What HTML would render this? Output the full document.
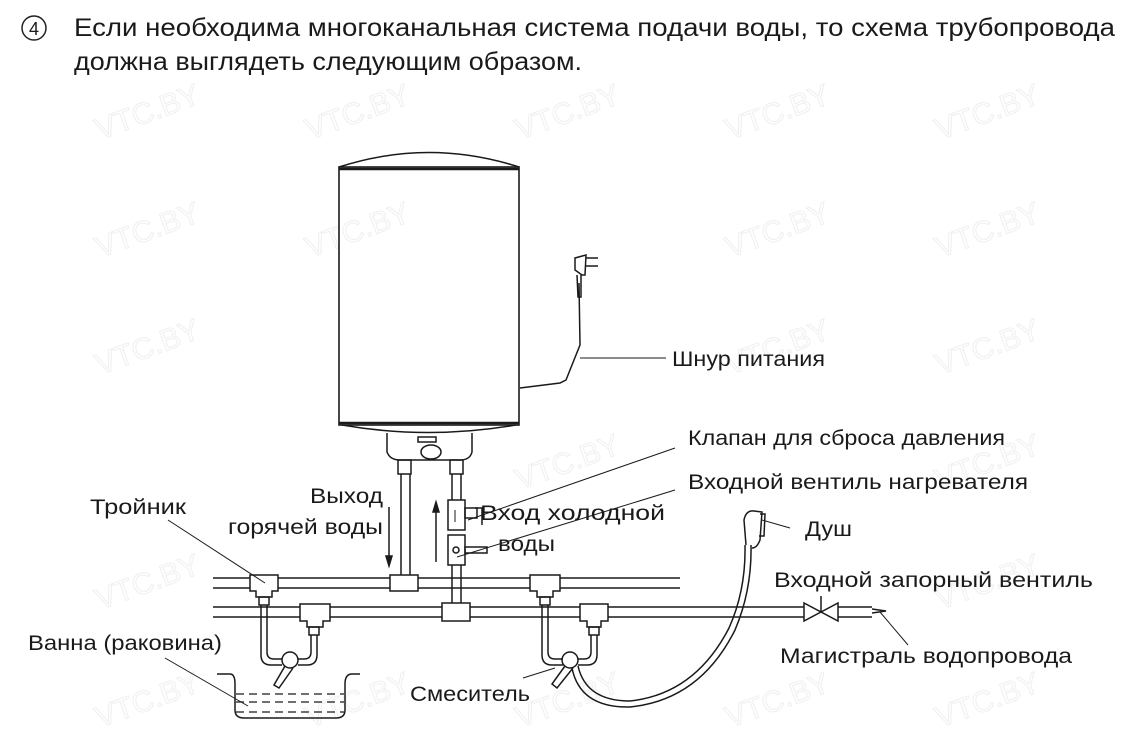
<!DOCTYPE html>
<html><head><meta charset="utf-8"><style>
html,body{margin:0;padding:0;background:#fff;}
svg{display:block;}
text{font-family:"Liberation Sans","DejaVu Sans",sans-serif;fill:#1a1a1a;}
</style></head><body>
<svg width="1145" height="748" viewBox="0 0 1145 748" xmlns="http://www.w3.org/2000/svg">
<g font-size="30" style="font-family:'Liberation Sans',sans-serif">
<text x="100" y="140" transform="rotate(-20 100 140)" style="fill:none;stroke:#efefef">VTC.BY</text>
<text x="310" y="140" transform="rotate(-20 310 140)" style="fill:none;stroke:#efefef">VTC.BY</text>
<text x="520" y="140" transform="rotate(-20 520 140)" style="fill:none;stroke:#efefef">VTC.BY</text>
<text x="730" y="140" transform="rotate(-20 730 140)" style="fill:none;stroke:#efefef">VTC.BY</text>
<text x="940" y="140" transform="rotate(-20 940 140)" style="fill:none;stroke:#efefef">VTC.BY</text>
<text x="100" y="258" transform="rotate(-20 100 258)" style="fill:none;stroke:#efefef">VTC.BY</text>
<text x="310" y="258" transform="rotate(-20 310 258)" style="fill:none;stroke:#efefef">VTC.BY</text>
<text x="730" y="258" transform="rotate(-20 730 258)" style="fill:none;stroke:#efefef">VTC.BY</text>
<text x="940" y="258" transform="rotate(-20 940 258)" style="fill:none;stroke:#efefef">VTC.BY</text>
<text x="100" y="375" transform="rotate(-20 100 375)" style="fill:none;stroke:#efefef">VTC.BY</text>
<text x="730" y="375" transform="rotate(-20 730 375)" style="fill:none;stroke:#efefef">VTC.BY</text>
<text x="940" y="375" transform="rotate(-20 940 375)" style="fill:none;stroke:#efefef">VTC.BY</text>
<text x="520" y="490" transform="rotate(-20 520 490)" style="fill:none;stroke:#efefef">VTC.BY</text>
<text x="940" y="490" transform="rotate(-20 940 490)" style="fill:none;stroke:#efefef">VTC.BY</text>
<text x="100" y="610" transform="rotate(-20 100 610)" style="fill:none;stroke:#efefef">VTC.BY</text>
<text x="940" y="610" transform="rotate(-20 940 610)" style="fill:none;stroke:#efefef">VTC.BY</text>
<text x="100" y="728" transform="rotate(-20 100 728)" style="fill:none;stroke:#efefef">VTC.BY</text>
<text x="310" y="728" transform="rotate(-20 310 728)" style="fill:none;stroke:#efefef">VTC.BY</text>
<text x="520" y="728" transform="rotate(-20 520 728)" style="fill:none;stroke:#efefef">VTC.BY</text>
<text x="730" y="728" transform="rotate(-20 730 728)" style="fill:none;stroke:#efefef">VTC.BY</text>
<text x="940" y="728" transform="rotate(-20 940 728)" style="fill:none;stroke:#efefef">VTC.BY</text>
</g>

<!-- title -->
<circle cx="34" cy="28" r="12" fill="none" stroke="#222" stroke-width="1.5"/>
<text x="34" y="35" font-size="18" text-anchor="middle">4</text>
<text x="74" y="36" font-size="25" textLength="1041" lengthAdjust="spacingAndGlyphs">Если необходима многоканальная система подачи воды, то  схема трубопровода</text>
<text x="74" y="70" font-size="25" textLength="508" lengthAdjust="spacingAndGlyphs">должна выглядеть следующим образом.</text>

<g fill="none" stroke="#1a1a1a" stroke-width="1.5">
<!-- heater -->
<path d="M339 167 Q429 138 519 167"/>
<rect x="339" y="167" width="180" height="258" stroke-width="1.6"/>
<line x1="339" y1="169" x2="519" y2="169" stroke-width="2.5"/>
<line x1="339" y1="423" x2="519" y2="423" stroke-width="2.5"/>
<path d="M342 425 Q429 440 516 425"/>
<path d="M387 433 L387 452 Q390 460 400 460 L460 460 Q470 460 472 452 L472 433"/>
<rect x="418" y="437" width="18" height="5"/>
<ellipse cx="431" cy="452" rx="10" ry="7"/>
<!-- plug cord -->
<path d="M520 388 L560 383 L566 380 L580 345 L579 283"/>
<path d="M577 275 L578 297 L581 297 L581 275"/>
<path d="M575 258 L575 270 L582 275 L585 275 L586 255 Z"/>
<path d="M586 258 L598 258 M586 266 L598 266"/>
<line x1="580" y1="358" x2="666" y2="358" stroke-width="1"/>
<!-- hot pipe -->
<rect x="398" y="460" width="13" height="14"/>
<line x1="401" y1="474" x2="401" y2="577"/><line x1="410" y1="474" x2="410" y2="577"/>
<!-- cold pipe -->
<rect x="450" y="460" width="13" height="14"/>
<line x1="452" y1="474" x2="452" y2="500"/><line x1="461" y1="474" x2="461" y2="500"/>
<rect x="448" y="500" width="17" height="30"/>
<rect x="465" y="508" width="12" height="10"/>
<path d="M475 508 L482 508 L482 525"/>
<rect x="448" y="535" width="17" height="30"/>
<rect x="465" y="547" width="22" height="6"/>
<circle cx="456" cy="550" r="3"/>
<line x1="452" y1="565" x2="452" y2="603"/><line x1="461" y1="565" x2="461" y2="603"/>
<line x1="455" y1="510" x2="455" y2="522" stroke-width="1"/>
<!-- arrows -->
<line x1="389" y1="507" x2="389" y2="562"/>
<path d="M386 556 L389 566 L392 556 Z" fill="#1a1a1a"/>
<line x1="436" y1="505" x2="436" y2="562"/>
<path d="M433 512 L436 502 L439 512 Z" fill="#1a1a1a"/>

<!-- upper pipe -->
<line x1="213" y1="578" x2="680" y2="578"/>
<line x1="213" y1="588" x2="680" y2="588"/>
<!-- lower pipe -->
<line x1="213" y1="607" x2="804" y2="607"/>
<line x1="213" y1="617" x2="804" y2="617"/>
<path d="M804 603 L804 621 L838 603 L838 621 Z" fill="#fff"/>
<line x1="821" y1="612" x2="821" y2="596"/>
<line x1="838" y1="607" x2="872" y2="607"/><line x1="838" y1="617" x2="872" y2="617"/>
<path d="M872 609 L886 611 L872 613" />
<!-- tees -->
<g fill="#fff">
<path d="M250 575 H278 V591 H272 V597 H256 V591 H250 Z"/>
<path d="M390 575 H418 V591 H390 Z"/>
<path d="M300 604 H330 V621 H323 V627 H307 V621 H300 Z"/>
<rect x="442" y="603" width="28" height="18"/>
<path d="M530 575 H560 V591 H553 V597 H537 V591 H530 Z"/>
<path d="M580 604 H608 V621 H601 V627 H587 V621 H580 Z"/>
</g>
<!-- left mixer -->
<rect x="259" y="597" width="10" height="8"/>
<rect x="309" y="627" width="10" height="8"/>
<path d="M261 605 L261 655 Q261 665 271 665 L282 665 M267 605 L267 652 Q267 659 274 659 L282 659"/>
<path d="M311 635 L311 652 Q311 659 304 659 L298 659 M317 635 L317 655 Q317 665 307 665 L298 665"/>
<circle cx="290" cy="660" r="8"/>
<path d="M285 666 L274 685 L279 688 L293 668"/>
<!-- right mixer -->
<rect x="540" y="597" width="10" height="8"/>
<rect x="589" y="627" width="10" height="8"/>
<path d="M542 605 L542 655 Q542 665 552 665 L563 665 M548 605 L548 652 Q548 659 555 659 L563 659"/>
<path d="M591 635 L591 652 Q591 659 584 659 L578 659 M597 635 L597 655 Q597 665 587 665 L578 665"/>
<circle cx="570" cy="660" r="8"/>
<path d="M565 666 L552 684 L557 688 L573 668"/>
<!-- hose -->
<path d="M572 668 Q580 708 630 707 Q700 700 735 630 Q752 590 751 545"/>
<path d="M578 666 Q586 701 630 701 Q695 694 729 628 Q746 590 745 545"/>
<path d="M746 545 L744 520 Q746 510 754 511 L762 512 L760 540 Q757 548 752 548"/>
<path d="M760 514 L765 514 L764 536 L759 536"/>
<!-- bath -->
<path d="M217 674 L230 674 Q235 674 235 684 L235 710 Q235 718 244 718 L336 718 Q345 718 345 710 L345 684 Q345 674 352 674 L360 674"/>
<g stroke-dasharray="8 5" stroke-width="1.2"><line x1="236" y1="694" x2="344" y2="694"/><line x1="236" y1="702" x2="344" y2="702"/><line x1="236" y1="712" x2="344" y2="712"/></g>
</g>

<!-- leader lines -->
<g stroke="#1a1a1a" stroke-width="1" fill="none">
<line x1="168" y1="520" x2="265" y2="583"/>
<line x1="165" y1="658" x2="248" y2="706"/>
<line x1="523" y1="678" x2="555" y2="668"/>
<line x1="675" y1="448" x2="468" y2="520"/>
<line x1="675" y1="490" x2="457" y2="557"/>
<line x1="790" y1="528" x2="762" y2="520"/>
<line x1="908" y1="645" x2="880" y2="612"/>
</g>

<g font-size="21" lengthAdjust="spacingAndGlyphs">
<text x="672" y="366" textLength="153" lengthAdjust="spacingAndGlyphs">Шнур питания</text>
<text x="688" y="445" textLength="317" lengthAdjust="spacingAndGlyphs">Клапан для сброса давления</text>
<text x="688" y="489" textLength="340" lengthAdjust="spacingAndGlyphs">Входной вентиль нагревателя</text>
<text x="480" y="520" textLength="185" lengthAdjust="spacingAndGlyphs">Вход холодной</text>
<text x="498" y="551" textLength="57" lengthAdjust="spacingAndGlyphs">воды</text>
<text x="310" y="503" textLength="73" lengthAdjust="spacingAndGlyphs">Выход</text>
<text x="228" y="534" textLength="155" lengthAdjust="spacingAndGlyphs">горячей воды</text>
<text x="90" y="514" textLength="96" lengthAdjust="spacingAndGlyphs">Тройник</text>
<text x="28" y="650" textLength="194" lengthAdjust="spacingAndGlyphs">Ванна (раковина)</text>
<text x="410" y="701" textLength="120" lengthAdjust="spacingAndGlyphs">Смеситель</text>
<text x="805" y="536" textLength="47" lengthAdjust="spacingAndGlyphs">Душ</text>
<text x="774" y="587" textLength="319" lengthAdjust="spacingAndGlyphs">Входной запорный  вентиль</text>
<text x="780" y="663" textLength="292" lengthAdjust="spacingAndGlyphs">Магистраль водопровода</text>
</g>
</svg>
</body></html>
